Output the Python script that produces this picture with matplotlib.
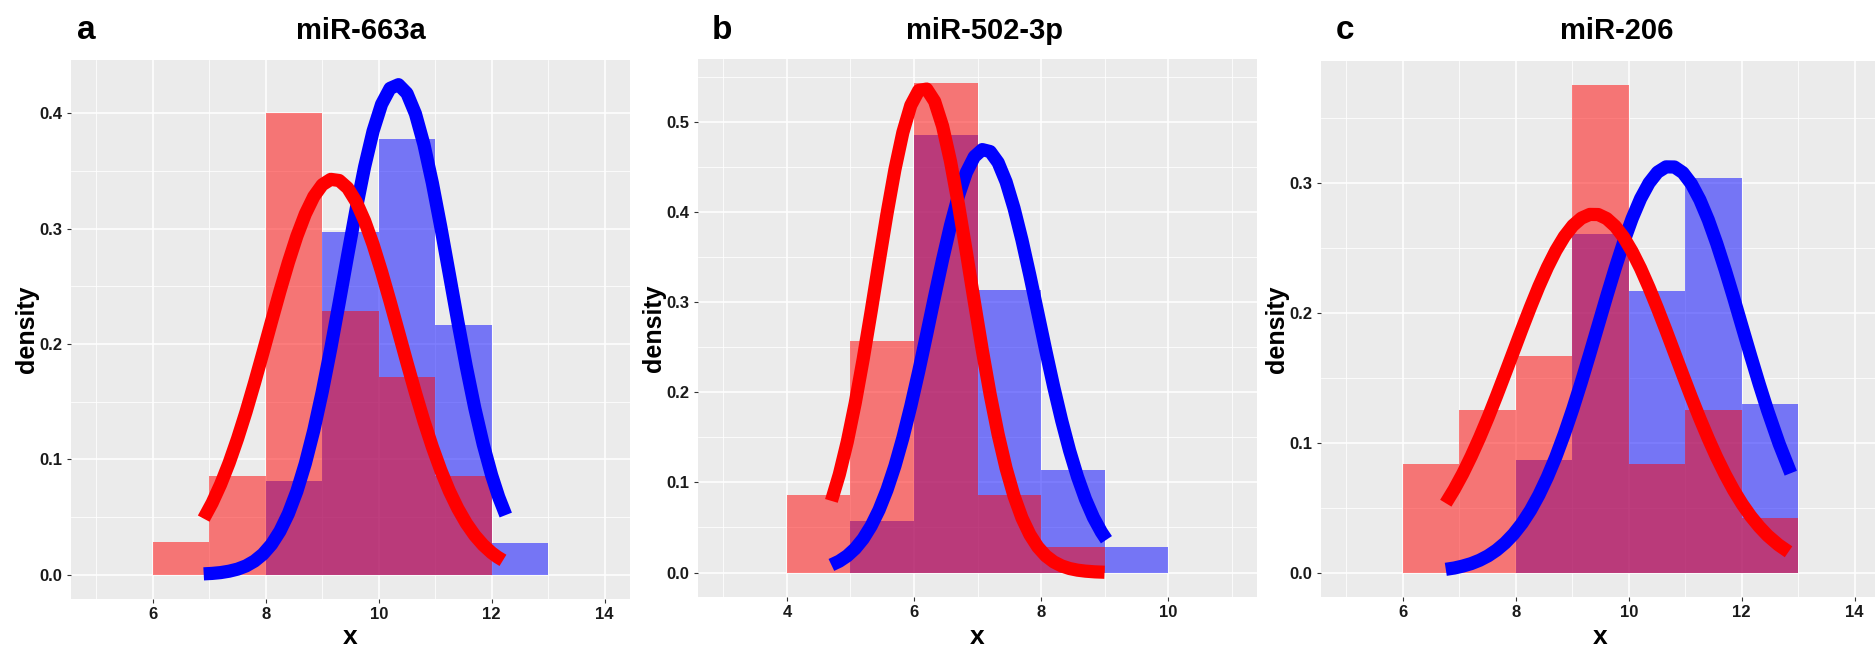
import matplotlib.pyplot as plt
from matplotlib.ticker import MultipleLocator

plt.rcParams['font.family'] = ['Liberation Sans', 'DejaVu Sans']
plt.rcParams['font.weight'] = 'bold'
plt.rcParams['axes.labelweight'] = 'bold'

letters = ['a', 'b', 'c']
titles = ['miR-663a', 'miR-502-3p', 'miR-206']

# histograms: left bin edges (bin width 1) and densities
red_bins_a = [6, 7, 8, 9, 10, 11]
red_dens_a = [0.0286, 0.0857, 0.400, 0.2286, 0.1714, 0.0857]
blue_bins_a = [8, 9, 10, 11, 12]
blue_dens_a = [0.081, 0.297, 0.378, 0.216, 0.027]

red_bins_b = [4, 5, 6, 7, 8]
red_dens_b = [0.0857, 0.257, 0.543, 0.0857, 0.0286]
blue_bins_b = [5, 6, 7, 8, 9]
blue_dens_b = [0.057, 0.486, 0.314, 0.114, 0.0286]

red_bins_c = [6, 7, 8, 9, 10, 11, 12]
red_dens_c = [0.0833, 0.125, 0.1667, 0.375, 0.0833, 0.125, 0.0417]
blue_bins_c = [8, 9, 10, 11, 12]
blue_dens_c = [0.087, 0.261, 0.217, 0.304, 0.130]

# fitted density curves
red_x_a = [6.9, 7.05, 7.2, 7.35, 7.5, 7.65, 7.8, 7.95, 8.1, 8.25, 8.4, 8.55,
           8.7, 8.85, 9.0, 9.15, 9.3, 9.45, 9.6, 9.75, 9.9, 10.05, 10.2, 10.35,
           10.5, 10.65, 10.8, 10.95, 11.1, 11.25, 11.4, 11.55, 11.7, 11.85,
           12.0, 12.1, 12.2]
red_y_a = [0.0485, 0.0621, 0.0782, 0.0968, 0.1179, 0.1411, 0.1662, 0.1925,
           0.2193, 0.2457, 0.2707, 0.2934, 0.3127, 0.3278, 0.3380, 0.3427,
           0.3417, 0.3352, 0.3233, 0.3067, 0.2862, 0.2626, 0.2370, 0.2104,
           0.1837, 0.1577, 0.1331, 0.1106, 0.0903, 0.0725, 0.0573, 0.0445,
           0.0340, 0.0256, 0.0189, 0.0153, 0.0123]
blue_x_a = [6.9, 7.05, 7.2, 7.35, 7.5, 7.65, 7.8, 7.95, 8.1, 8.25, 8.4, 8.55,
            8.7, 8.85, 9.0, 9.15, 9.3, 9.45, 9.6, 9.75, 9.9, 10.05, 10.2, 10.35,
            10.5, 10.65, 10.8, 10.95, 11.1, 11.25, 11.4, 11.55, 11.7, 11.85,
            12.0, 12.125, 12.25]
blue_y_a = [0.0006, 0.0010, 0.0017, 0.0029, 0.0047, 0.0075, 0.0117, 0.0177,
            0.0261, 0.0376, 0.0528, 0.0722, 0.0963, 0.1251, 0.1586, 0.1959,
            0.2359, 0.2769, 0.3169, 0.3536, 0.3846, 0.4078, 0.4216, 0.4248,
            0.4173, 0.3996, 0.3730, 0.3395, 0.3012, 0.2605, 0.2196, 0.1805,
            0.1446, 0.1130, 0.0861, 0.0672, 0.0516]

red_x_b = [4.7, 4.825, 4.95, 5.075, 5.2, 5.325, 5.45, 5.575, 5.7, 5.825, 5.95,
           6.075, 6.2, 6.325, 6.45, 6.575, 6.7, 6.825, 6.95, 7.075, 7.2, 7.325,
           7.45, 7.575, 7.7, 7.825, 7.95, 8.075, 8.2, 8.325, 8.45, 8.575, 8.7,
           8.85, 9.0]
red_y_b = [0.0795, 0.1090, 0.1452, 0.1881, 0.2368, 0.2897, 0.3446, 0.3983,
           0.4475, 0.4887, 0.5188, 0.5353, 0.5368, 0.5232, 0.4957, 0.4565,
           0.4086, 0.3555, 0.3006, 0.2471, 0.1974, 0.1533, 0.1157, 0.0849,
           0.0605, 0.0420, 0.0283, 0.0185, 0.0118, 0.0073, 0.0044, 0.0026,
           0.0015, 0.0007, 0.0003]
blue_x_b = [4.7, 4.825, 4.95, 5.075, 5.2, 5.325, 5.45, 5.575, 5.7, 5.825, 5.95,
            6.075, 6.2, 6.325, 6.45, 6.575, 6.7, 6.825, 6.95, 7.075, 7.2, 7.325,
            7.45, 7.575, 7.7, 7.825, 7.95, 8.075, 8.2, 8.325, 8.45, 8.575, 8.7,
            8.825, 8.95, 9.03]
blue_y_b = [0.0084, 0.0126, 0.0185, 0.0266, 0.0374, 0.0516, 0.0695, 0.0917,
            0.1183, 0.1495, 0.1848, 0.2235, 0.2646, 0.3065, 0.3474, 0.3854,
            0.4183, 0.4443, 0.4617, 0.4696, 0.4674, 0.4552, 0.4338, 0.4045,
            0.3692, 0.3297, 0.2881, 0.2464, 0.2061, 0.1688, 0.1353, 0.1061,
            0.0814, 0.0611, 0.0449, 0.0364]

red_x_c = [6.76, 6.91, 7.06, 7.21, 7.36, 7.51, 7.66, 7.81, 7.96, 8.11, 8.26,
           8.41, 8.56, 8.71, 8.86, 9.01, 9.16, 9.31, 9.46, 9.61, 9.76, 9.91,
           10.06, 10.21, 10.36, 10.51, 10.66, 10.81, 10.96, 11.11, 11.26,
           11.41, 11.56, 11.71, 11.86, 12.01, 12.16, 12.31, 12.46, 12.65, 12.83]
red_y_c = [0.0534, 0.0641, 0.0761, 0.0895, 0.1040, 0.1195, 0.1360, 0.1530,
           0.1703, 0.1876, 0.2044, 0.2204, 0.2350, 0.2479, 0.2587, 0.2671,
           0.2728, 0.2757, 0.2756, 0.2725, 0.2666, 0.2581, 0.2471, 0.2341,
           0.2193, 0.2033, 0.1865, 0.1692, 0.1519, 0.1349, 0.1185, 0.1030,
           0.0885, 0.0753, 0.0633, 0.0527, 0.0434, 0.0354, 0.0285, 0.0214,
           0.0160]
blue_x_c = [6.76, 6.91, 7.06, 7.21, 7.36, 7.51, 7.66, 7.81, 7.96, 8.11, 8.26,
            8.41, 8.56, 8.71, 8.86, 9.01, 9.16, 9.31, 9.46, 9.61, 9.76, 9.91,
            10.06, 10.21, 10.36, 10.51, 10.66, 10.81, 10.96, 11.11, 11.26,
            11.41, 11.56, 11.71, 11.86, 12.01, 12.16, 12.31, 12.46, 12.665, 12.87]
blue_y_c = [0.0025, 0.0035, 0.0050, 0.0069, 0.0095, 0.0129, 0.0173, 0.0228,
            0.0296, 0.0379, 0.0479, 0.0598, 0.0736, 0.0892, 0.1068, 0.1260,
            0.1466, 0.1683, 0.1905, 0.2127, 0.2342, 0.2544, 0.2725, 0.2879,
            0.2999, 0.3082, 0.3123, 0.3122, 0.3078, 0.2992, 0.2869, 0.2714,
            0.2531, 0.2328, 0.2113, 0.1890, 0.1668, 0.1452, 0.1247, 0.0990,
            0.0765]

x_ticks = [[6, 8, 10, 12, 14], [4, 6, 8, 10], [6, 8, 10, 12, 14]]
y_ticks = [[0.0, 0.1, 0.2, 0.3, 0.4], [0.0, 0.1, 0.2, 0.3, 0.4, 0.5],
           [0.0, 0.1, 0.2, 0.3]]

panels = [
    (red_bins_a, red_dens_a, blue_bins_a, blue_dens_a, red_x_a, red_y_a, blue_x_a, blue_y_a),
    (red_bins_b, red_dens_b, blue_bins_b, blue_dens_b, red_x_b, red_y_b, blue_x_b, blue_y_b),
    (red_bins_c, red_dens_c, blue_bins_c, blue_dens_c, red_x_c, red_y_c, blue_x_c, blue_y_c),
]

W, H = 1875, 653
fig = plt.figure(figsize=(W / 100, H / 100), dpi=100)

# panel boxes in pixels: left, top, right, bottom
boxes = [(71, 60, 630, 599), (698, 59, 1257, 597), (1321, 61, 1880, 597)]
xlims = [(4.55, 14.45), (2.6, 11.4), (4.55, 14.45)]
ylims = [(-0.0212, 0.4462), (-0.0272, 0.5702), (-0.0188, 0.3938)]
title_x = [361, 985, 1617]
letter_x = [86, 722, 1345]

for i, (rb, rd, bb, bd, rx, ry, bx, by) in enumerate(panels):
    l, t, r, b = boxes[i]
    ax = fig.add_axes([l / W, 1 - b / H, (r - l) / W, (b - t) / H])
    ax.set_facecolor('#EBEBEB')
    for s in ax.spines.values():
        s.set_visible(False)

    ax.bar(bb, bd, width=1, align='edge', color='blue', alpha=0.5, linewidth=0, zorder=2)
    ax.bar(rb, rd, width=1, align='edge', color='red', alpha=0.5, linewidth=0, zorder=3)
    ax.plot(bx, by, color='blue', lw=9.5, solid_capstyle='butt',
            solid_joinstyle='round', zorder=4)
    ax.plot(rx, ry, color='red', lw=9.5, solid_capstyle='butt',
            solid_joinstyle='round', zorder=5)

    ax.set_xlim(*xlims[i])
    ax.set_ylim(*ylims[i])
    ax.set_xticks(x_ticks[i])
    ax.set_yticks(y_ticks[i])
    ax.set_yticklabels(['%.1f' % v for v in y_ticks[i]])
    ax.xaxis.set_minor_locator(MultipleLocator(1))
    ax.yaxis.set_minor_locator(MultipleLocator(0.05))
    ax.grid(which='major', color='white', lw=1.1, zorder=0)
    ax.grid(which='minor', color='white', lw=0.55, zorder=0)
    ax.set_axisbelow(True)
    ax.tick_params(which='major', length=3, width=0.8, color='#333333',
                   labelsize=12, pad=3, labelcolor='#1a1a1a')
    ax.tick_params(which='minor', length=0)

    ax.set_xlabel('x', fontsize=19, fontweight='bold', va='center')
    ax.xaxis.set_label_coords(0.5, -(637 - b) / (b - t))
    ax.set_ylabel('density', fontsize=18, fontweight='bold', va='center')
    ax.yaxis.set_label_coords(-44 / (r - l), 0.5)

    fig.text(title_x[i] / W, 1 - 39 / H, titles[i], fontsize=21,
             fontweight='bold', ha='center', va='baseline')
    fig.text(letter_x[i] / W, 1 - 39 / H, letters[i], fontsize=24,
             fontweight='bold', ha='center', va='baseline')

fig.savefig('out.png', dpi=100)
